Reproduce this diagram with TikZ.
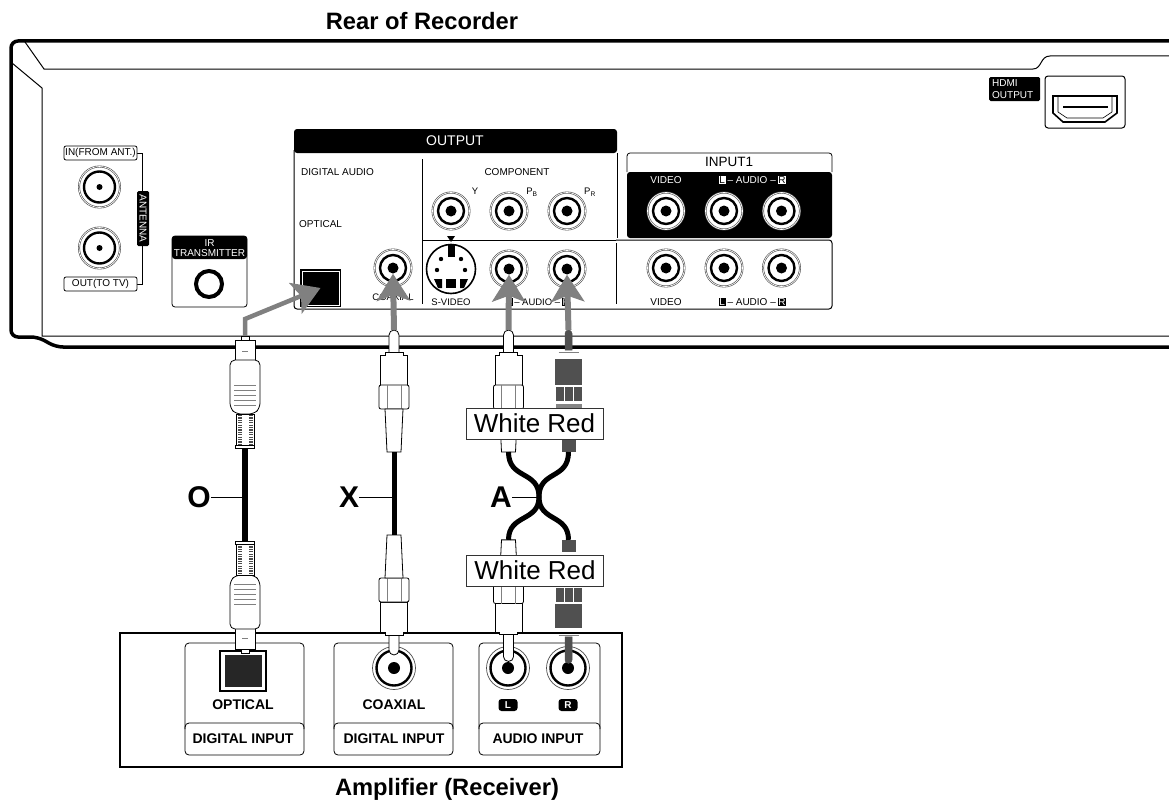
\documentclass[tikz,border=0pt]{standalone}
\usepackage{fontspec}
\setmainfont{Liberation Sans}
\usepackage{tikz}
\usetikzlibrary{calc,positioning,arrows.meta}
\definecolor{signalgray}{HTML}{808080}
\definecolor{redplug}{HTML}{505050}
\newcommand{\blackbadge}[1]{{\setlength{\fboxsep}{0.8pt}\colorbox{black}{\textcolor{white}{#1}}}}
\newcommand{\whitebadge}[1]{{\setlength{\fboxsep}{0.8pt}\colorbox{white}{\textcolor{black}{#1}}}}
\tikzset{
    pics/rcaplug/.style={code={
        \draw[plugline] (-5,0) -- (-5,-#1+5) arc[start angle=180, end angle=360, radius=5] -- (5,0);
        \draw[plugline] (-9,0) -- (-9,-3) -- (9,-3) -- (9,0) -- (13.5,0) -- (13.5,30) -- (-13.5,30) -- (-13.5,0) -- cycle;
        \draw[plugline, rounded corners=2pt] (-15,30) rectangle (15,54);
        \draw[gray, line width=0.5pt] (-7,30) -- (-7,54) (7,30) -- (7,54);
        \draw[plugline] (-9,54) -- (-7,97) -- (7,97) -- (9,54) -- cycle;
        \coordinate (-pin) at (0,-#1);
        \coordinate (-tail) at (0,97);
    }},
    pics/redrca/.style={code={
        \draw[redline, fill=redplug] (-3.5,-5) -- (-3.5,-#1+3.5) arc[start angle=180, end angle=360, radius=3.5] -- (3.5,-5) -- cycle;
        \draw[gray, line width=0.6pt] (-10,-3) -- (10,-3);
        \fill[redplug] (-13.5,4) rectangle (13.5,30);
        \foreach \x in {-13,-4,5} {
            \fill[redplug] (\x,32) rectangle ++(8,14);
        }
        \fill[redplug!70!white] (-13,49) rectangle (13,54);
        \fill[redplug] (-7,84) rectangle (7,97);
        \coordinate (-pin) at (0,-#1);
        \coordinate (-tail) at (0,97);
    }},
    pics/opticalplug/.style={code={
        \draw[plugline] (-4,-14) rectangle (4,-26);
        \draw[plugline] (-10,0) rectangle (10,-22);
        \draw[gray, line width=1pt] (-3,-11) -- (3,-11);
        \draw[plugline, rounded corners=5pt] (-15,-2) -- (-15,46) -- (-9,52) -- (9,52) -- (15,46) -- (15,-2) -- cycle;
        \foreach \y in {23,28,33,38,43} {
            \draw[gray, line width=0.5pt] (-11,\y) -- (11,\y);
        }
        \draw[plugline] (-9,52) rectangle (9,84);
        \draw[black!70, line width=4pt, dash pattern=on 1.2pt off 1.2pt] (-5.5,53) -- (-5.5,83) (5.5,53) -- (5.5,83);
        \draw[plugline] (-9.5,83) rectangle (9.5,86);
        \coordinate (-pin) at (0,-26);
        \coordinate (-tail) at (0,86);
    }}
}
\begin{document}
\begin{tikzpicture}[
    x=1pt, y=-1pt,
    every node/.style={font=\fontsize{9.5}{10}\selectfont, inner sep=0pt},
    plugline/.style={draw=black, fill=white, line width=0.8pt},
    redline/.style={draw=redplug, line width=0.5pt},
    panel/.style={draw, line width=0.8pt, rounded corners=4pt},
    tag/.style={draw, fill=white, line width=0.8pt, rounded corners=2pt, minimum width=73pt, minimum height=14pt, font=\fontsize{10}{10}\selectfont},
    jackrim/.style={circle, draw=black!70, fill=white, line width=0.6pt, inner sep=0pt, double=white, double distance=0.7pt},
    jackring/.style={circle, draw=black, line width=2.4pt, inner sep=0pt},
    jackdot/.style={circle, fill=black, inner sep=0pt},
    cable/.style={line width=5pt, black},
    leader/.style={line width=1pt, black},
    signal/.style={line width=6pt, signalgray, -{Stealth[length=27pt, width=33pt, inset=6pt]}},
    wirelabel/.style={draw=black!80, fill=white, line width=1pt, minimum width=137pt, minimum height=31pt, font=\fontsize{26}{26}\selectfont},
    cablename/.style={font=\bfseries\fontsize{30}{30}\selectfont},
    caption/.style={font=\bfseries\fontsize{23.7}{24}\selectfont},
    ampname/.style={font=\fontsize{14}{14}\selectfont\bfseries}
]
    \useasboundingbox (0,0) rectangle (1169,800);
    \fill[white] (0,0) rectangle (1169,800);

    % Recorder body
    \coordinate (bodyend) at (1169,41);
    \coordinate (floorend) at (1169,347);
    \coordinate (lidend) at (1169,56);
    \draw[line width=3.5pt, rounded corners=7pt] (bodyend) -- (11,41) -- (11,337) -- (38,337) -- (56,347) -- (floorend);
    \draw[line width=1pt] (25,42) -- (44,69) -- (1033,69) .. controls (1042,69) and (1040,56) .. (1050,56) -- (lidend);
    \draw[line width=1pt] (12,63) -- (42,88) -- (42,336) -- (1169,336);

    % Titles
    \node[caption] (rear) at (422,21.5) {Rear of Recorder};
    \node[caption] (amp) at (447,789) {Amplifier (Receiver)};

    % Antenna group
    \draw[line width=0.8pt] (137,153) -- (142,153) -- (142,284) -- (137,284);
    \node[tag] (infrom) at (100.5,153) {IN(FROM ANT.)};
    \node[tag] (outto) at (100.5,284) {OUT(TO TV)};
    \node[fill=black, rounded corners=1.5pt, minimum width=12pt, minimum height=55pt] (antbox) at (143,218.5) {};
    \node[rotate=-90, text=white, font=\fontsize{10}{10}\selectfont] (antenna) at (antbox.center) {ANTENNA};

    % IR transmitter
    \draw[line width=0.8pt, rounded corners=3pt] (172,236) rectangle (247,307);
    \fill[black, rounded corners=3pt] (172,236) -- (172,259) -- (247,259) -- (247,236) -- cycle;
    \node[align=center, text=white, font=\fontsize{10}{9.5}\selectfont] (irlabel) at (209.5,248) {IR\\TRANSMITTER};
    \node[circle, draw, line width=4pt, minimum size=26pt] (irport) at (209,284) {};

    % Output panel
    \draw[line width=1pt, rounded corners=3pt] (294,150) -- (294,309) -- (832,309) -- (832,240) -- (616,240);
    \fill[black, rounded corners=3pt] (294,153) -- (294,129) -- (617,129) -- (617,153) -- cycle;
    \node[text=white, font=\fontsize{14}{14}\selectfont] (output) at (455,141) {OUTPUT};
    \draw[line width=0.8pt] (617,153) -- (617,238) (616,243) -- (616,304);
    \draw[line width=0.8pt] (422,159) -- (422,304) (422,240) -- (616,240);
    \node[anchor=west, font=\fontsize{10}{10}\selectfont] (digaudio) at (301,172) {DIGITAL AUDIO};
    \node[anchor=west, font=\fontsize{10}{10}\selectfont] (optlabel) at (299,224) {OPTICAL};
    \node[font=\fontsize{10}{10}\selectfont] (complabel) at (517,172) {COMPONENT};
    \node (ylabel) at (475,191) {Y};
    \node (pblabel) at (532,192) {P\textsubscript{B}};
    \node (prlabel) at (590,192) {P\textsubscript{R}};
    \node (coaxlabel) at (393,297) {COAXIAL};
    \node (svlabel) at (451,302) {S-VIDEO};
    \node (audlabel) at (538,302) {\blackbadge{L}\,-- AUDIO --\,\blackbadge{R}};
    \node[draw, fill=black, line width=1.5pt, double=white, double distance=1pt, minimum width=37pt, minimum height=34pt] (optout) at (320.5,288) {};

    % Input panel
    \draw[line width=0.8pt, rounded corners=3pt] (627,172) -- (627,153) -- (832,153) -- (832,172);
    \fill[black, rounded corners=3pt] (627,172) rectangle (832,238);
    \node[font=\fontsize{13.5}{13}\selectfont] (input) at (729,162) {INPUT1};
    \node[text=white, font=\fontsize{10}{10}\selectfont] (vidtop) at (666,180) {VIDEO};
    \node[text=white, font=\fontsize{10}{10}\selectfont] (audtop) at (752.5,180) {\whitebadge{L}\,-- AUDIO --\,\whitebadge{R}};
    \node[font=\fontsize{10}{10}\selectfont] (vidlow) at (666,302) {VIDEO};
    \node[font=\fontsize{10}{10}\selectfont] (audlow) at (752.5,302) {\blackbadge{L}\,-- AUDIO --\,\blackbadge{R}};

    % RCA jacks
    \foreach \name/\x/\y in {jy/451/211, jpb/509/211, jpr/567/211, jcoax/393/268, jwhite/509/269, jred/567/269,
        jv1/666/211, jl1/724/211, jr1/781.5/211, jv2/666/268, jl2/724/268, jr2/781.5/268} {
        \node[jackrim, minimum size=37pt] (\name) at (\x,\y) {};
        \node[jackring, minimum size=26pt] (\name-ring) at (\x,\y) {};
        \node[jackdot, minimum size=11pt] (\name-dot) at (\x,\y) {};
    }
    \foreach \name/\x/\y in {jin/99.5/187, jout/99.5/248} {
        \node[jackrim, minimum size=41pt] (\name) at (\x,\y) {};
        \node[jackring, minimum size=31pt] (\name-ring) at (\x,\y) {};
        \node[jackdot, minimum size=6pt] (\name-dot) at (\x,\y) {};
    }

    % S-video socket
    \node[circle, draw, fill=white, line width=1.6pt, minimum size=49pt] (svideo) at (451,269) {};
    \node[fill=black, minimum width=7pt, minimum height=12pt] (svkey) at (451,251) {};
    \node[fill=black, minimum width=10pt, minimum height=9pt] (svpad) at (451,283) {};
    \foreach \x/\y in {441/259, 461/259, 437/270, 465/270} {
        \fill[black] (\x,\y) circle (2.2pt);
    }
    \fill[black] (434,279) -- (442,279) -- (442,288) -- (438,288) -- cycle;
    \fill[black] (468,279) -- (460,279) -- (460,288) -- (464,288) -- cycle;
    \fill[black] (447,236) -- (455,236) -- (451,242) -- cycle;

    % HDMI
    \node[fill=black, rounded corners=1.5pt, minimum width=51pt, minimum height=24pt] (hdmibox) at (1014.5,89) {};
    \node[anchor=west, align=left, text=white, font=\fontsize{10}{12}\selectfont] (hdmilabel) at (992,89) {HDMI\\OUTPUT};
    \node[draw, line width=1pt, rounded corners=3pt, minimum width=80pt, minimum height=52pt] (hdmiport) at (1085,102) {};
    \draw[line width=1.6pt] (1053,96) -- (1117,96) -- (1117,113) -- (1105,122) -- (1063,122) -- (1053,113) -- cycle;
    \draw[line width=0.6pt] (1058,96) -- (1058,112) -- (1067,118) -- (1103,118) -- (1112,112) -- (1112,96);
    \draw[line width=1.6pt] (1063,107) -- (1108,107);

    % Amplifier
    \draw[line width=2.5pt] (120,633) rectangle (622,767);
    \foreach \name/\xa/\xb in {popt/185/304, pcoax/334/453, paud/479/600} {
        \node[panel, minimum width={\xb-\xa}, minimum height=112pt] (\name) at ({(\xa+\xb)/2},699) {};
        \draw[line width=0.8pt, rounded corners=4pt] (\xa,729) -- (\xa,723) -- (\xb,723) -- (\xb,729);
    }
    \node[ampname] (ampopt) at (243,705) {OPTICAL};
    \node[ampname] (ampcoax) at (394,705) {COAXIAL};
    \node[ampname] (ampdig1) at (243,739) {DIGITAL INPUT};
    \node[ampname] (ampdig2) at (394,739) {DIGITAL INPUT};
    \node[ampname] (ampaud) at (538,739) {AUDIO INPUT};
    \node[fill=black, rounded corners=3pt, text=white, minimum width=19pt, minimum height=12pt, font=\bfseries\fontsize{10}{10}\selectfont] (badgel) at (508,705) {L};
    \node[fill=black, rounded corners=3pt, text=white, minimum width=19pt, minimum height=12pt, font=\bfseries\fontsize{10}{10}\selectfont] (badger) at (568,705) {R};
    \node[draw, line width=1.6pt, fill=white, minimum width=46pt, minimum height=40pt] (inopt) at (243,671) {};
    \node[fill=black!85, minimum width=37pt, minimum height=32pt] (inoptcore) at (243,671) {};
    \foreach \name/\x in {incoax/394, inl/508, inr/568} {
        \node[circle, draw=black!70, fill=white, line width=0.7pt, minimum size=43pt] (\name) at (\x,668) {};
        \node[jackring, minimum size=35pt] (\name-ring) at (\x,668) {};
        \node[jackdot, minimum size=12pt] (\name-dot) at (\x,668) {};
    }

    % Plugs
    \pic (otop) at (245,362) {opticalplug};
    \pic[yscale=-1] (obot) at (245,627) {opticalplug};
    \pic (xtop) at (394,355) {rcaplug=25};
    \pic[yscale=-1] (xbot) at (394,632) {rcaplug=23};
    \pic (wtop) at (508.5,355) {rcaplug=25};
    \pic[yscale=-0.95] (wbot) at (508.5,632) {rcaplug=31};
    \pic (rtop) at (568.5,355) {redrca=25};
    \pic[yscale=-0.95] (rbot) at (568.5,632) {redrca=33};

    % Cables
    \draw[cable, line width=6pt] (otop-tail) -- (obot-tail);
    \draw[cable] (xtop-tail) -- (xbot-tail);
    \coordinate (cross) at (539,497);
    \draw[cable] (wtop-tail) .. controls ($(wtop-tail)+(0,28)$) and (539,470) .. (cross)
        .. controls (539,522) and ($(rbot-tail)+(0,-26)$) .. (rbot-tail);
    \draw[cable] (rtop-tail) .. controls ($(rtop-tail)+(0,28)$) and (539,470) .. (cross)
        .. controls (539,522) and ($(wbot-tail)+(0,-26)$) .. (wbot-tail);

    % Wire colour labels
    \node[wirelabel] (lbltop) at (534.5,423.5) {White Red};
    \node[wirelabel] (lblbot) at (535,570.5) {White Red};

    % Cable names
    \node[cablename] (cableo) at (199,497) {O};
    \node[cablename] (cablex) at (349,497) {X};
    \node[cablename] (cablea) at (501,497) {A};
    \draw[leader] (cableo.east) -- (otop-tail |- cableo);
    \draw[leader] (cablex.east) -- (xtop-tail |- cablex);
    \draw[leader] (cablea.east) -- (cross);

    % Signal arrows
    \coordinate (obend) at (245,319);
    \draw[signal, line width=4.5pt] (otop-pin) -- (obend) -- (optout.center);
    \draw[signal] (xtop-pin) -- (jcoax-dot.south);
    \draw[signal] (wtop-pin) -- (jwhite-dot.south);
    \draw[signal] (rtop-pin) -- (jred-dot.south);
\end{tikzpicture}
\end{document}
